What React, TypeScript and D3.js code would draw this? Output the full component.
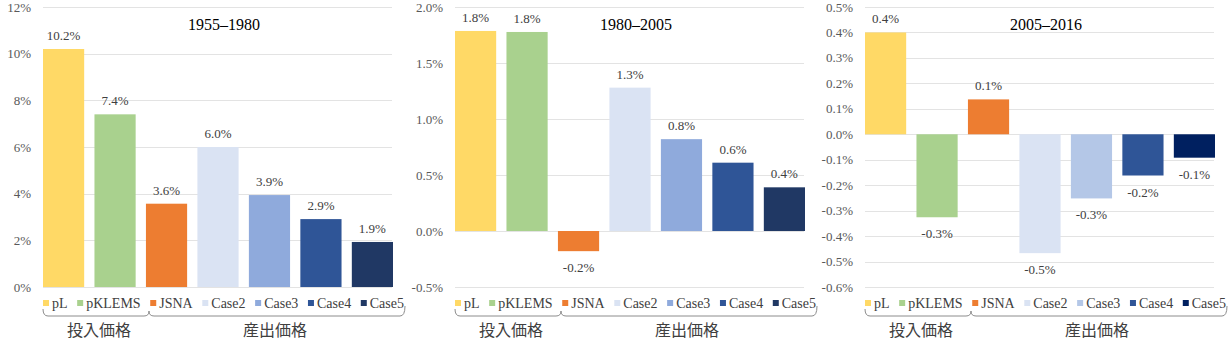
import React, { useRef, useEffect } from "react"
import * as d3 from "d3"

// price growth, % per year
const categories = ["pL", "pKLEMS", "JSNA", "Case2", "Case3", "Case4", "Case5"]
const periods = ["1955–1980", "1980–2005", "2005–2016"]
const growth1955 = [10.2, 7.4, 3.57, 6.0, 3.94, 2.91, 1.93]
const growth1980 = [1.786, 1.777, -0.18, 1.28, 0.82, 0.61, 0.39]
const growth2005 = [0.4, -0.326, 0.137, -0.467, -0.252, -0.162, -0.092]
const ticks1955 = [0, 2, 4, 6, 8, 10, 12]
const ticks1980 = [-0.5, 0, 0.5, 1.0, 1.5, 2.0]
const ticks2005 = [-0.6, -0.5, -0.4, -0.3, -0.2, -0.1, 0, 0.1, 0.2, 0.3, 0.4, 0.5]
const groupLabels = ["投入価格", "産出価格"]

const colorsA = ["#FFD966", "#A9D18E", "#ED7D31", "#DAE3F3", "#8FAADC", "#2F5597", "#203864"]
const colorsB = ["#FFD966", "#A9D18E", "#ED7D31", "#DAE3F3", "#B4C7E7", "#2F5597", "#002060"]

const serif = "'Liberation Serif', 'Times New Roman', serif"
const cjk = "'Noto Sans CJK JP', sans-serif"

const panels = [
    { title: periods[0], values: growth1955, ticks: ticks1955, colors: colorsA, left: 43, tickFmt: (d: number) => d3.format("d")(d) + "%" },
    { title: periods[1], values: growth1980, ticks: ticks1980, colors: colorsA, left: 455, tickFmt: (d: number) => d.toFixed(1) + "%" },
    { title: periods[2], values: growth2005, ticks: ticks2005, colors: colorsB, left: 865, tickFmt: (d: number) => d.toFixed(1) + "%" },
]

const App = () => {
    let element = useRef<SVGSVGElement>(null)

    useEffect(() => {
        const svg = d3.select(element.current)
        svg.selectAll("*").remove()

        const plotW = 350, top = 7, bottom = 287

        panels.forEach(p => {
            const g = svg.append("g")

            const x = d3.scaleBand()
                .domain(categories)
                .range([p.left, p.left + plotW])
                .paddingInner(0.2)
                .paddingOuter(0)

            const y = d3.scaleLinear()
                .domain([d3.min(p.ticks)!, d3.max(p.ticks)!])
                .range([bottom, top])

            // gridlines + tick labels
            g.append("g")
                .selectAll("line")
                .data(p.ticks)
                .enter()
                .append("line")
                    .attr("x1", p.left)
                    .attr("x2", p.left + plotW - 1)
                    .attr("y1", d => Math.round(y(d)) + 0.5)
                    .attr("y2", d => Math.round(y(d)) + 0.5)
                    .attr("stroke", "#e3e3e3")
                    .attr("stroke-width", 1)

            g.append("g")
                .selectAll("text")
                .data(p.ticks)
                .enter()
                .append("text")
                    .attr("x", p.left - 12)
                    .attr("y", d => y(d))
                    .attr("dy", "0.35em")
                    .attr("text-anchor", "end")
                    .attr("font-family", serif)
                    .attr("font-size", 13)
                    .attr("fill", "#595959")
                    .text(p.tickFmt)

            // bars
            g.append("g")
                .selectAll("rect")
                .data(p.values)
                .enter()
                .append("rect")
                    .attr("x", (d, i) => x(categories[i])!)
                    .attr("y", d => y(Math.max(0, d)))
                    .attr("width", x.bandwidth())
                    .attr("height", d => Math.abs(y(d) - y(0)))
                    .attr("fill", (d, i) => p.colors[i])

            // value labels
            g.append("g")
                .selectAll("text")
                .data(p.values)
                .enter()
                .append("text")
                    .attr("x", (d, i) => x(categories[i])! + x.bandwidth() / 2)
                    .attr("y", d => d >= 0 ? y(d) - 9 : y(d) + 21)
                    .attr("text-anchor", "middle")
                    .attr("font-family", serif)
                    .attr("font-size", 13)
                    .attr("fill", "#404040")
                    .text(d => d.toFixed(1) + "%")

            // title
            g.append("text")
                .attr("x", p.left + plotW / 2 + 6)
                .attr("y", 30)
                .attr("text-anchor", "middle")
                .attr("font-family", serif)
                .attr("font-size", 16)
                .attr("fill", "#000")
                .text(p.title)

            // legend, spread across the panel width
            const legStart = p.left, legEnd = p.left + 361, legY = 303, sq = 6
            const items = g.append("g")
                .selectAll("g")
                .data(categories)
                .enter()
                .append("g")
            items.append("rect")
                .attr("width", sq)
                .attr("height", sq)
                .attr("y", legY - sq / 2)
                .attr("fill", (d, i) => p.colors[i])
            const labels = items.append("text")
                .attr("y", legY)
                .attr("dy", "0.35em")
                .attr("font-family", serif)
                .attr("font-size", 14)
                .attr("fill", "#404040")
                .text(d => d)
            const widths: number[] = []
            labels.each(function () { widths.push((this as SVGTextElement).getComputedTextLength()) })
            const textGap = 3
            const total = d3.sum(widths) + categories.length * (sq + textGap)
            const gap = (legEnd - legStart - total) / (categories.length - 1)
            let cx = legStart
            items.each(function (d, i) {
                d3.select(this).attr("transform", `translate(${cx},0)`)
                d3.select(this).select("text").attr("x", sq + textGap)
                cx += sq + textGap + widths[i] + gap
            })

            // group braces below the legend
            const bx0 = p.left, bxm = p.left + 106, bx1 = legEnd + 1
            const by = 316
            const brace = `M${bx0},309 Q${bx0},${by} ${bx0 + 5},${by} L${bxm - 5},${by} Q${bxm},${by} ${bxm},311`
                + ` Q${bxm},${by} ${bxm + 5},${by} L${bx1 - 5},${by} Q${bx1},${by} ${bx1},306`
            g.append("path")
                .attr("d", brace)
                .attr("fill", "none")
                .attr("stroke", "#8c8c8c")
                .attr("stroke-width", 1)

            g.append("text")
                .attr("x", (bx0 + bxm) / 2 + 3)
                .attr("y", 336)
                .attr("text-anchor", "middle")
                .attr("font-family", cjk)
                .attr("font-size", 16)
                .attr("fill", "#404040")
                .text(groupLabels[0])

            g.append("text")
                .attr("x", (bxm + bx1) / 2 - 2)
                .attr("y", 336)
                .attr("text-anchor", "middle")
                .attr("font-family", cjk)
                .attr("font-size", 16)
                .attr("fill", "#404040")
                .text(groupLabels[1])
        })
    }, [])

    return (
        <svg ref={element} width={1231} height={351}
            style={{ position: "absolute", left: 0, top: 0, background: "#fff" }} />
    )
}

export default App
